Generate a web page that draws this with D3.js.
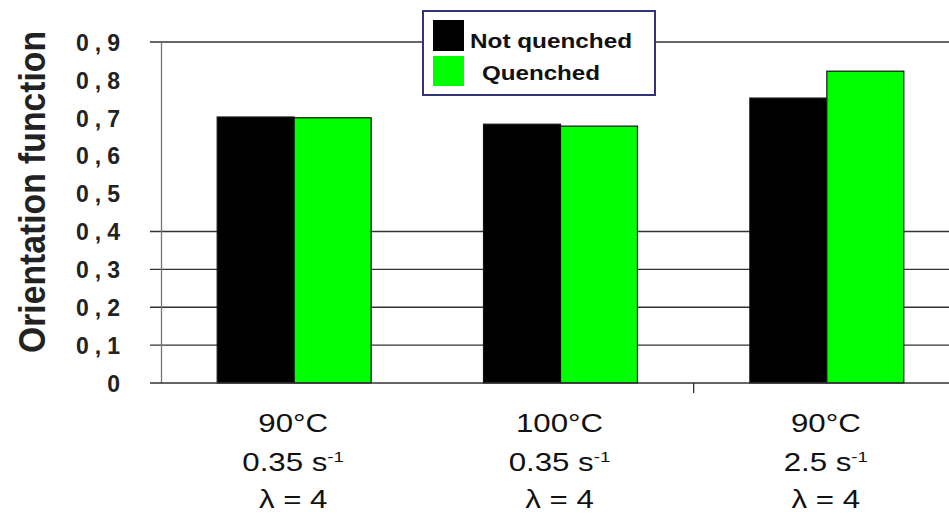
<!DOCTYPE html>
<html><head><meta charset="utf-8">
<script src="https://cdn.jsdelivr.net/npm/d3@7"></script>
<style>body{margin:0;background:#fff}svg{display:block}</style>
</head><body>
<svg id="c" width="949" height="517"></svg>
<script>
const categories = ["g1","g2","g3"];
const catLine1 = ["90°C","100°C","90°C"];
const catRate = ["0.35","0.35","2.5"];
const catLambda = ["4","4","4"];
const series = ["Not quenched","Quenched"];
const notQuenched = [0.702,0.683,0.752];
const quenched = [0.70,0.678,0.823];
const yTicks = [0,0.1,0.2,0.3,0.4,0.5,0.6,0.7,0.8,0.9];
const yTickLabels = ["0","0,1","0,2","0,3","0,4","0,5","0,6","0,7","0,8","0,9"];
const gridValues = [0.1,0.2,0.3,0.4,0.9];
const colors = ["#000000","#00ff00"];

const svg = d3.select("#c");
const x0 = 161, x1 = 960, yTop = 42, yBot = 383;
const y = d3.scaleLinear().domain([0,0.9]).range([yBot,yTop]);
const x = d3.scaleBand().domain(categories).range([x0,x1]).paddingInner(0).paddingOuter(0);
const xs = d3.scaleBand().domain(series).range([0,x.bandwidth()]).paddingInner(0).paddingOuter(0.73);

// gridlines
svg.append("g").selectAll("line").data(gridValues).join("line")
  .attr("x1",150).attr("x2",949).attr("y1",d=>y(d)).attr("y2",d=>y(d))
  .attr("stroke","#333").attr("stroke-width",1.4);

// y axis
const yAxis = d3.axisLeft(y).tickValues(yTicks).tickFormat((d,i)=>yTickLabels[i]).tickSize(0).tickPadding(35);
const ga = svg.append("g").attr("transform",`translate(${x0},0)`).call(yAxis);
ga.select(".domain").attr("stroke","#777").attr("stroke-width",1.3);
ga.selectAll("text").attr("font-family","Liberation Sans, Arial, sans-serif").attr("font-weight","bold")
  .attr("font-size",23).attr("fill","#222").attr("letter-spacing","6px").attr("dy","0.36em");

// bars
const data = categories.map((c,i)=>({c, vals:[notQuenched[i],quenched[i]]}));
const grp = svg.append("g").selectAll("g").data(data).join("g")
  .attr("transform",d=>`translate(${x(d.c)},0)`);
grp.selectAll("rect").data(d=>d.vals.map((v,j)=>({s:series[j],v,j}))).join("rect")
  .attr("x",d=>xs(d.s)).attr("width",xs.bandwidth())
  .attr("y",d=>y(d.v)).attr("height",d=>yBot-y(d.v))
  .attr("fill",d=>colors[d.j]).attr("stroke","#111").attr("stroke-width",1.2);

// x axis line
svg.append("line").attr("x1",150).attr("x2",949).attr("y1",yBot).attr("y2",yBot)
  .attr("stroke","#333").attr("stroke-width",1.6);
svg.append("line").attr("x1",x("g3")).attr("x2",x("g3")).attr("y1",yBot).attr("y2",yBot+10)
  .attr("stroke","#333").attr("stroke-width",1.3);

// x labels (horizontally stretched like the reference)
const lab = svg.append("g").selectAll("g").data(categories).join("g")
  .attr("transform",d=>`translate(${x(d)+x.bandwidth()/2-1},0) scale(1.25,1)`);
const txt = lab.append("text").attr("text-anchor","middle")
  .attr("font-family","Liberation Sans, Arial, sans-serif")
  .attr("font-size",25).attr("fill","#111");
txt.append("tspan").attr("x",0).attr("y",432).text((d,i)=>catLine1[i]);
const l2 = txt.append("tspan").attr("x",0).attr("y",471);
l2.append("tspan").text((d,i)=>catRate[i]+" s");
l2.append("tspan").attr("dy",-9).attr("font-size",15).text("-1");
txt.append("tspan").attr("x",0).attr("y",508).text((d,i)=>"λ = "+catLambda[i]);

// y title
svg.append("text").attr("transform","translate(45,192) rotate(-90)").attr("text-anchor","middle")
  .attr("font-family","Liberation Sans, Arial, sans-serif").attr("font-weight","bold")
  .attr("font-size",37).attr("fill","#222")
  .attr("textLength",322).attr("lengthAdjust","spacingAndGlyphs").text("Orientation function");

// legend
const lg = svg.append("g");
lg.append("rect").attr("x",423).attr("y",11).attr("width",232).attr("height",84)
  .attr("fill","#fff").attr("stroke","#33337a").attr("stroke-width",2);
const li = lg.selectAll("g").data(series).join("g");
li.append("rect").attr("x",433).attr("y",(d,i)=>i?56:20).attr("width",31).attr("height",(d,i)=>i?30:31)
  .attr("fill",(d,i)=>colors[i]);
li.append("text").attr("x",(d,i)=>i?482:470).attr("y",(d,i)=>i?80:48)
  .attr("font-family","Liberation Sans, Arial, sans-serif").attr("font-weight","bold")
  .attr("font-size",20).attr("fill","#111")
  .attr("textLength",(d,i)=>i?118:162).attr("lengthAdjust","spacingAndGlyphs").text(d=>d);
</script>
</body></html>
